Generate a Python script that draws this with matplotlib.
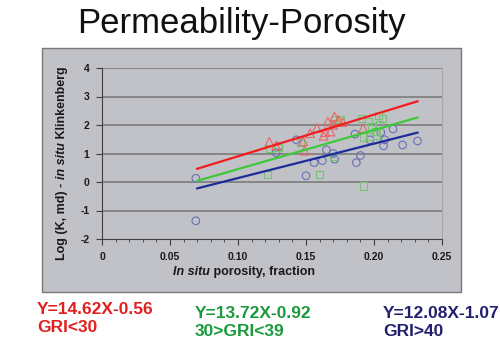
import numpy as np
import matplotlib.pyplot as plt
from matplotlib.patches import Rectangle

plt.rcParams['font.family'] = ['Liberation Sans', 'DejaVu Sans']
plt.rcParams['axes.unicode_minus'] = False

# GRI < 30 (triangles)
tri_x = [0.123, 0.128, 0.148, 0.149, 0.153, 0.158, 0.163, 0.164, 0.166, 0.168,
         0.170, 0.171, 0.174, 0.177, 0.192]
tri_y = [1.41, 1.28, 1.43, 1.10, 1.71, 1.90, 1.62, 1.75, 2.12, 1.77,
         2.01, 2.30, 2.18, 2.10, 1.89]

# 30 > GRI < 39 (squares)
sq_x = [0.122, 0.1235, 0.130, 0.146, 0.160, 0.170, 0.171, 0.175, 0.191, 0.192,
        0.192, 0.196, 0.197, 0.198, 0.201, 0.202, 0.203, 0.206, 0.204]
sq_y = [0.27, 1.19, 1.21, 1.40, 0.26, 0.89, 2.18, 2.18, 2.24, 1.58,
        -0.14, 2.12, 1.60, 1.95, 1.77, 1.65, 2.32, 2.24, 2.00]

# GRI > 40 (circles)
circ_x = [0.069, 0.069, 0.128, 0.130, 0.143, 0.150, 0.156, 0.162, 0.165, 0.170,
          0.171, 0.186, 0.187, 0.190, 0.197, 0.205, 0.207, 0.208, 0.214, 0.221,
          0.232]
circ_y = [0.13, -1.36, 1.03, 1.24, 1.48, 0.22, 0.68, 0.75, 1.13, 1.00,
          0.80, 1.68, 0.68, 0.93, 1.48, 1.74, 1.27, 1.48, 1.86, 1.30,
          1.44]

# regression lines  Y = a*X + b
fits = [(14.62, -0.56, '#f41c1c'),
        (13.72, -0.92, '#3ec83a'),
        (12.08, -1.07, '#1c2c98')]
fit_x = [0.07, 0.232]

x_ticks = [0, 0.05, 0.10, 0.15, 0.20, 0.25]
x_tick_labels = ['0', '0.05', '0.10', '0.15', '0.20', '0.25']
y_ticks = [-2, -1, 0, 1, 2, 3, 4]

panel_color = '#c1c2c7'

fig = plt.figure(figsize=(5.0, 3.47), dpi=100)
W, H = 500, 347


def fx(px):
    return px / W


def fy(py):
    return 1 - py / H


# grey chart panel behind the axes
fig.add_artist(Rectangle((fx(42), fy(292)), fx(461) - fx(42), fy(48) - fy(292),
                         transform=fig.transFigure, facecolor=panel_color,
                         edgecolor='#7a7a7a', lw=1.0, zorder=-5))

ax = fig.add_axes([fx(102), fy(239), fx(442) - fx(102), fy(68) - fy(239)])
ax.set_zorder(1)
ax.set_facecolor(panel_color)
ax.set_xlim(0, 0.25)
ax.set_ylim(-2, 4)

for v in y_ticks[1:]:
    ax.axhline(v, color='#767676', lw=1.1, zorder=1)

ax.scatter(circ_x, circ_y, s=30, marker='o', facecolors='none',
           edgecolors='#6870b4', linewidths=0.8, zorder=3)
ax.scatter(sq_x, sq_y, s=26, marker='s', facecolors='none',
           edgecolors='#74c474', linewidths=0.8, zorder=3)
ax.scatter(tri_x, tri_y, s=38, marker='^', facecolors='none',
           edgecolors='#e66666', linewidths=0.8, zorder=3)

for a, b, c in fits:
    xs = np.array(fit_x)
    ax.plot(xs, a * xs + b, color=c, lw=1.6, zorder=4)

ax.spines['top'].set_visible(False)
ax.spines['right'].set_color('#a8a8a8')
ax.spines['left'].set_color('#404040')
ax.spines['bottom'].set_color('#404040')

ax.set_xticks(x_ticks)
ax.set_xticklabels(x_tick_labels)
ax.set_xticks(np.arange(0, 0.251, 0.01), minor=True)
ax.set_yticks(y_ticks)
ax.tick_params(axis='x', which='major', length=4, color='#404040', pad=5,
               labelsize=7.5, labelcolor='#1a1a1a')
ax.tick_params(axis='x', which='minor', length=2.5, color='#404040')
ax.tick_params(axis='y', length=4, color='#404040', pad=5,
               labelsize=7.5, labelcolor='#1a1a1a')
for lab in ax.get_xticklabels() + ax.get_yticklabels():
    lab.set_fontweight('bold')

# axis titles, italic parts drawn as separate pieces
lab_kw = dict(fontsize=9, fontweight='bold', color='#1a1a1a')
t1 = fig.text(fx(173), fy(272), 'In situ', style='italic', ha='left', va='center', **lab_kw)
fig.add_artist(plt.Annotation(' porosity, fraction', xy=(1, 0), xycoords=t1,
                              ha='left', va='bottom', **lab_kw))

y1 = fig.text(fx(62), fy(260), 'Log (K, md) - ', rotation=90, ha='center', va='bottom', **lab_kw)
y2 = plt.Annotation('in situ', xy=(0, 1), xycoords=y1, rotation=90, ha='left', va='bottom',
                    style='italic', **lab_kw)
fig.add_artist(y2)
fig.add_artist(plt.Annotation(' Klinkenberg', xy=(0, 1), xycoords=y2, rotation=90,
                              ha='left', va='bottom', **lab_kw))

fig.text(fx(241), fy(23), 'Permeability-Porosity', fontsize=25, ha='center', va='center',
         color='#111111')

eq_kw = dict(fontsize=12.5, fontweight='bold', ha='left', va='center')
fig.text(fx(37), fy(310), 'Y=14.62X-0.56', color='#e0201e', **eq_kw)
fig.text(fx(37), fy(328), 'GRI<30', color='#e0201e', **eq_kw)
fig.text(fx(195), fy(313), 'Y=13.72X-0.92', color='#1a9a3c', **eq_kw)
fig.text(fx(195), fy(332), '30>GRI<39', color='#1a9a3c', **eq_kw)
fig.text(fx(383), fy(313), 'Y=12.08X-1.07', color='#22206e', **eq_kw)
fig.text(fx(383), fy(331), 'GRI>40', color='#22206e', **eq_kw)

fig.savefig('out.png', dpi=100, facecolor='white')
